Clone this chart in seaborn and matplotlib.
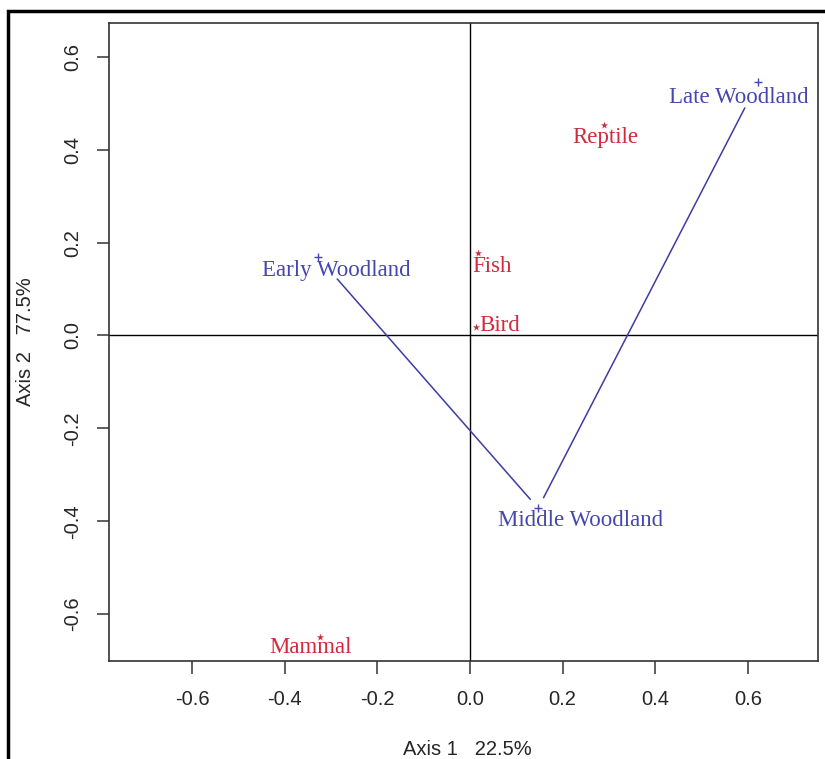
import pandas as pd
import matplotlib
matplotlib.use("Agg")
import matplotlib.pyplot as plt
from matplotlib.patches import Rectangle
import seaborn as sns

# coordonnees des periodes (lignes) et des taxons (colonnes)
periods = ["Early Woodland", "Middle Woodland", "Late Woodland"]
period_x = [-0.328, 0.147, 0.622]
period_y = [0.169, -0.372, 0.546]

taxa = ["Reptile", "Fish", "Bird", "Mammal"]
taxa_x = [0.289, 0.017, 0.013, -0.324]
taxa_y = [0.454, 0.178, 0.018, -0.650]

x_ticks = [-0.6, -0.4, -0.2, 0.0, 0.2, 0.4, 0.6]
y_ticks = [-0.6, -0.4, -0.2, 0.0, 0.2, 0.4, 0.6]
x_label = "Axis 1   22.5%"
y_label = "Axis 2   77.5%"

# decalage des etiquettes (pixels)
period_off = [(18, -13), (42, -12), (-19, -16)]
taxa_off = [(1, -13), (14, -14), (24, 2), (-9, -10)]

blue = "#4646b0"
red = "#d02a3c"

sns.set_style("white")
plt.rcParams["font.family"] = ["Liberation Sans", "DejaVu Sans"]

df_p = pd.DataFrame({"x": period_x, "y": period_y, "name": periods})
df_t = pd.DataFrame({"x": taxa_x, "y": taxa_y, "name": taxa})

fig = plt.figure(figsize=(8.25, 7.59), dpi=100)
ax = fig.add_axes([109 / 825, 1 - 661 / 759, 709 / 825, 638 / 759])

ax.axhline(0, color="black", lw=1)
ax.axvline(0, color="black", lw=1)

# trajectoire entre les periodes
for i in range(len(periods) - 1):
    sa = 21 if i == 0 else 8.5
    sb = 8.5 if i == 0 else 21
    ax.annotate("", xy=(period_x[i + 1], period_y[i + 1]), xytext=(period_x[i], period_y[i]),
                arrowprops=dict(arrowstyle="-", color="#3c3ca4", lw=1.1, shrinkA=sa, shrinkB=sb))

sns.scatterplot(data=df_p, x="x", y="y", marker="+", color=blue, s=34, linewidth=1.0, ax=ax)
sns.scatterplot(data=df_t, x="x", y="y", marker="*", color=red, s=30, linewidth=0, ax=ax)

for (name, px, py), (dx, dy) in zip(zip(periods, period_x, period_y), period_off):
    ax.annotate(name, (px, py), xytext=(dx, dy), textcoords="offset pixels",
                ha="center", va="center", color=blue, fontsize=16.5, family="Liberation Serif")
for (name, px, py), (dx, dy) in zip(zip(taxa, taxa_x, taxa_y), taxa_off):
    ax.annotate(name, (px, py), xytext=(dx, dy), textcoords="offset pixels",
                ha="center", va="center", color=red, fontsize=16.5, family="Liberation Serif")

ax.set_xlim(-0.779, 0.751)
ax.set_ylim(-0.701, 0.673)
ax.set_xticks(x_ticks)
ax.set_yticks(y_ticks)
ax.set_xticklabels([f"{v:.1f}" for v in x_ticks])
ax.set_yticklabels([f"{v:.1f}" for v in y_ticks], rotation=90, va="center")
ax.tick_params(axis="both", direction="out", length=9, width=1.1, color="#333333",
               labelsize=14.5, bottom=True, left=True)
ax.tick_params(axis="x", pad=12)
ax.tick_params(axis="y", pad=10)
ax.set_xlabel(x_label, fontsize=14.5)
ax.set_ylabel(y_label, fontsize=14.5)
ax.xaxis.set_label_coords(0.505, -0.124)
ax.yaxis.set_label_coords(-0.105, 0.5)
for sp in ax.spines.values():
    sp.set_color("#333333")
    sp.set_linewidth(1.2)

# cadre exterieur
fig.add_artist(Rectangle((8 / 825, -0.1), 2, 1.1 - 11 / 759, transform=fig.transFigure,
                         fill=False, lw=2.5, color="black"))

fig.savefig("out.png", dpi=100)
